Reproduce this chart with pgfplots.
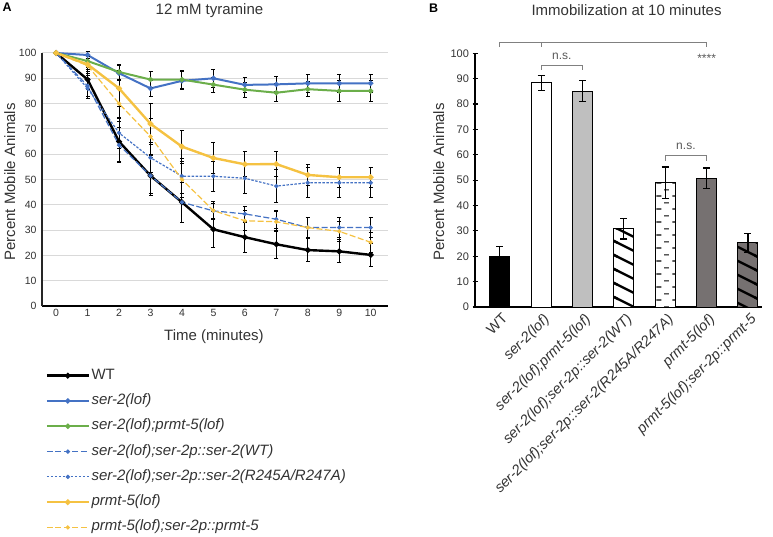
\documentclass[border=0pt]{standalone}
\usepackage{pgfplots}
\pgfplotsset{compat=1.18}
\usepackage{pgfplotstable}
\usepackage{fontspec}
\setmainfont{Liberation Sans}
\usetikzlibrary{patterns}
\definecolor{cblue}{HTML}{4472C4}
\definecolor{cgreen}{HTML}{6BAE4A}
\definecolor{cyellow}{HTML}{F5C242}
\definecolor{cgrid}{HTML}{D9D9D9}
\definecolor{dgray}{HTML}{767171}
\definecolor{lgray}{HTML}{BFBFBF}
\definecolor{ctext}{HTML}{333333}

\pgfdeclarepatternformonly{mystripes}{\pgfpoint{-2pt}{-2pt}}{\pgfpoint{30pt}{16pt}}{\pgfpoint{28pt}{14pt}}{%
  \pgfsetlinewidth{2.3pt}%
  \pgfpathmoveto{\pgfpoint{-4pt}{16pt}}%
  \pgfpathlineto{\pgfpoint{32pt}{-2pt}}%
  \pgfusepath{stroke}}
\pgfdeclarepatternformonly{mydashes}{\pgfpoint{0pt}{0pt}}{\pgfpoint{16pt}{13pt}}{\pgfpoint{16pt}{13pt}}{%
  \pgfsetlinewidth{1.2pt}%
  \pgfpathmoveto{\pgfpoint{0.5pt}{3.25pt}}\pgfpathlineto{\pgfpoint{5.5pt}{3.25pt}}%
  \pgfpathmoveto{\pgfpoint{8.5pt}{9.75pt}}\pgfpathlineto{\pgfpoint{13.5pt}{9.75pt}}%
  \pgfusepath{stroke}}

\pgfplotstableread{
x WT WTe S2 S2e DB DBe RW RWe RA RAe P5 P5e RS RSe
0 100 0 100 0 100 0 100 0 100 0 100 0 100 0
1 89.5 4 99.2 1.5 96.8 2.5 87 4 86 4 95.5 3 95 3
2 65 8 92 3 92.5 3 63.6 7 68.4 6 86 7 80 6
3 51.5 8 86 3 89.5 3 51.5 7 58.6 6 72 8 67 7
4 41 8 89 3.5 89.5 3.5 41 8 51.3 7 63 6.5 50 7
5 30.3 7 90 3.5 87.5 3 37.6 3 51.3 6 58.5 6 37.7 3.5
6 27.2 6 87.4 3 85.5 3 36.4 3 50.5 6 56 5 33.7 4
7 24.4 5.5 87.6 3 84.3 3.5 34.3 3.5 47.4 6.5 56.1 5 33.3 4
8 22.1 4.5 88 3.5 85.7 3 31 4 48.7 6 51.8 4 31 4
9 21.6 4.5 88 3.5 85 4 31 4 48.7 6 50.9 4 29.5 4
10 20.2 4.5 88 3.5 85 4 31 4 48.7 6 50.9 4 25.2 4
}\curves

\pgfplotstableread{
x y e
0 20.1 3.7
1 88.4 3.0
2 85.1 4.1
3 30.8 4.0
4 49.0 6.2
5 50.8 4.0
6 25.3 3.7
}\bars

\pgfplotsset{
  lerr/.style={/pgfplots/error bars/y dir=both, /pgfplots/error bars/y explicit,
    /pgfplots/error bars/error bar style={solid, black, line width=1pt},
    /pgfplots/error bars/error mark options={solid, rotate=90, black, mark size=2pt, line width=1pt}},
  barbase/.style={ybar, bar width=20pt, bar shift=0pt, draw=black, line width=1pt},
  mybar/.style={barbase,
    /pgfplots/error bars/y dir=both, /pgfplots/error bars/y explicit,
    /pgfplots/error bars/error bar style={solid, black, line width=1.2pt},
    /pgfplots/error bars/error mark options={rotate=90, black, mark size=3.5pt, line width=1.2pt}},
}

\begin{document}
\begin{tikzpicture}[x=1pt,y=1pt]
\useasboundingbox (0,0) rectangle (773,536);
\node[font=\bfseries\fontsize{12.5}{14}\selectfont, anchor=base west, inner sep=0pt] at (2.5,524.3) {A};
\node[font=\bfseries\fontsize{12.5}{14}\selectfont, anchor=base west, inner sep=0pt] at (429,523.3) {B};

\begin{axis}[
  at={(42pt,230pt)}, anchor=south west, scale only axis,
  width=346pt, height=253pt,
  xmin=-0.45, xmax=10.55, ymin=0, ymax=100,
  axis x line*=bottom, axis y line*=left,
  x axis line style={-, line width=1.5pt, black},
  y axis line style={-, line width=1.2pt, black!85},
  xtick={0,...,10}, ytick={0,10,...,100},
  major tick length=0pt,
  ymajorgrids, grid style={cgrid, line width=1pt},
  tick label style={font=\fontsize{10.5}{12}\selectfont, text=ctext},
  yticklabel style={xshift=-2pt},
  /pgf/number format/assume math mode=true,
  title={12 mM tyramine},
  title style={at={(0.484,1.1277)}, anchor=base, font=\fontsize{15}{18}\selectfont, text=ctext},
  xlabel={Time (minutes)},
  xlabel style={at={(0.497,-0.138)}, anchor=base, font=\fontsize{15}{18}\selectfont, text=ctext},
  ylabel={Percent Mobile Animals},
  ylabel style={at={(-0.078,0.49)}, anchor=base, font=\fontsize{15}{18}\selectfont, text=ctext},
  clip=false,
  legend style={at={(0.010,-0.239)}, anchor=north west, draw=none, fill=none,
    font=\fontsize{15}{18}\selectfont, text=ctext, inner sep=0pt, row sep=7.3pt,
    nodes={inner sep=1.5pt, text height=11pt, text depth=4pt}},
  legend cell align=left,
  legend image code/.code={\draw[mark repeat=2,mark phase=2,#1] plot coordinates {(0pt,0pt) (21pt,0pt) (42pt,0pt)};},
]
\addplot[black, line width=2.4pt, mark=*, mark size=1.5pt, mark options={solid}, lerr] table[x=x, y=WT, y error=WTe] {\curves};
\addlegendentry{WT}
\addplot[cblue, line width=2pt, mark=*, mark size=1.5pt, mark options={solid}, lerr] table[x=x, y=S2, y error=S2e] {\curves};
\addlegendentry{\itshape ser-2(lof)}
\addplot[cgreen, line width=2pt, mark=*, mark size=1.5pt, mark options={solid}, lerr] table[x=x, y=DB, y error=DBe] {\curves};
\addlegendentry{\itshape ser-2(lof);prmt-5(lof)}
\addplot[cblue, line width=1.2pt, dash pattern=on 6pt off 2.5pt, mark=*, mark size=1.5pt, mark options={solid}, lerr] table[x=x, y=RW, y error=RWe] {\curves};
\addlegendentry{\itshape ser-2(lof);ser-2p::ser-2(WT)}
\addplot[cblue, line width=1.2pt, dash pattern=on 2.5pt off 1.5pt, mark=*, mark size=1.5pt, mark options={solid}, lerr] table[x=x, y=RA, y error=RAe] {\curves};
\addlegendentry{\itshape ser-2(lof);ser-2p::ser-2(R245A/R247A)}
\addplot[cyellow, line width=2.4pt, mark=*, mark size=1.5pt, mark options={solid}, lerr] table[x=x, y=P5, y error=P5e] {\curves};
\addlegendentry{\itshape prmt-5(lof)}
\addplot[cyellow, line width=1.2pt, dash pattern=on 6pt off 2.5pt, mark=*, mark size=1.5pt, mark options={solid}, lerr] table[x=x, y=RS, y error=RSe] {\curves};
\addlegendentry{\itshape prmt-5(lof);ser-2p::prmt-5}
\end{axis}

\begin{axis}[
  at={(475pt,229pt)}, anchor=south west, scale only axis,
  width=287pt, height=253.7pt,
  xmin=-0.6, xmax=6.34, ymin=0, ymax=100,
  axis x line*=bottom, axis y line*=left,
  x axis line style={-, line width=1.2pt, black},
  y axis line style={-, line width=1.2pt, black},
  xtick={0,...,6},
  xticklabels={{\upshape WT}, ser-2(lof), ser-2(lof);prmt-5(lof), ser-2(lof);ser-2p::ser-2(WT), ser-2(lof);ser-2p::ser-2(R245A/R247A), prmt-5(lof), prmt-5(lof);ser-2p::prmt-5},
  x tick style={draw=none},
  ytick={0,10,...,100},
  y tick style={line width=1.2pt, black},
  tick align=center, major tick length=5pt,
  yticklabel style={font=\fontsize{11}{13}\selectfont, text=ctext},
  xticklabel style={rotate=45, anchor=north east, font=\fontsize{14.5}{16}\selectfont\itshape, text=ctext, inner sep=1pt, yshift=-2pt},
  /pgf/number format/assume math mode=true,
  title={Immobilization at 10 minutes},
  title style={at={(0.528,1.1245)}, anchor=base, font=\fontsize{15}{18}\selectfont, text=ctext},
  ylabel={Percent Mobile Animals},
  ylabel style={at={(-0.108,0.493)}, anchor=base, font=\fontsize{15}{18}\selectfont, text=ctext},
  clip=false,
]
\addplot[mybar, fill=black] table[x=x, y=y, y error=e, restrict expr to domain={\thisrow{x}}{0:0}] {\bars};
\addplot[mybar, fill=white] table[x=x, y=y, y error=e, restrict expr to domain={\thisrow{x}}{1:1}] {\bars};
\addplot[mybar, fill=lgray] table[x=x, y=y, y error=e, restrict expr to domain={\thisrow{x}}{2:2}] {\bars};
\addplot[barbase, fill=white] table[x=x, y=y, restrict expr to domain={\thisrow{x}}{3:3}] {\bars};
\addplot[mybar, pattern=mystripes, pattern color=black] table[x=x, y=y, y error=e, restrict expr to domain={\thisrow{x}}{3:3}] {\bars};
\addplot[barbase, fill=white] table[x=x, y=y, restrict expr to domain={\thisrow{x}}{4:4}] {\bars};
\addplot[mybar, pattern=mydashes, pattern color=black] table[x=x, y=y, y error=e, restrict expr to domain={\thisrow{x}}{4:4}] {\bars};
\addplot[mybar, fill=dgray] table[x=x, y=y, y error=e, restrict expr to domain={\thisrow{x}}{5:5}] {\bars};
\addplot[barbase, fill=dgray] table[x=x, y=y, restrict expr to domain={\thisrow{x}}{6:6}] {\bars};
\addplot[mybar, pattern=mystripes, pattern color=black] table[x=x, y=y, y error=e, restrict expr to domain={\thisrow{x}}{6:6}] {\bars};

\draw[gray, line width=0.8pt] (axis cs:0,102.4) -- (axis cs:0,104.2) -- (axis cs:5,104.2) -- (axis cs:5,102.4);
\draw[gray, line width=0.8pt] (axis cs:1,104.2) -- (axis cs:1,102.4);
\draw[gray, line width=0.8pt] (axis cs:1,93.4) -- (axis cs:1,95.4) -- (axis cs:2,95.4) -- (axis cs:2,93.4);
\draw[gray, line width=0.8pt] (axis cs:4,57.7) -- (axis cs:4,59.6) -- (axis cs:5,59.6) -- (axis cs:5,57.7);
\node[font=\fontsize{12}{14}\selectfont, text=black!65] at (axis cs:1.5,98.7) {n.s.};
\node[font=\fontsize{12}{14}\selectfont, text=black!65] at (axis cs:4.5,63.2) {n.s.};
\node[font=\fontsize{12}{14}\selectfont, text=black!65] at (axis cs:5,98.0) {****};
\end{axis}
\end{tikzpicture}
\end{document}
